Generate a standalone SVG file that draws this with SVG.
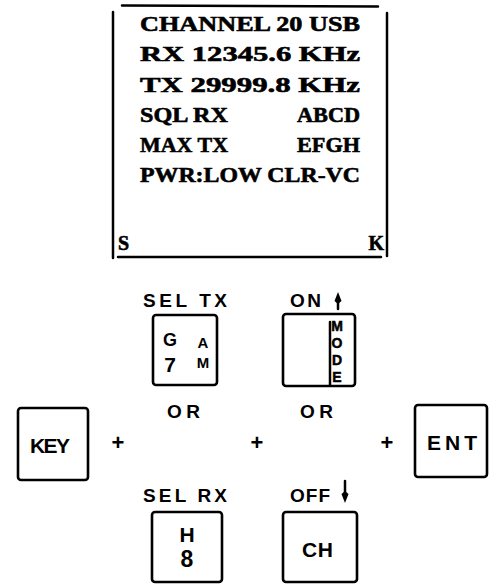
<svg xmlns="http://www.w3.org/2000/svg" width="493" height="584" viewBox="0 0 493 584">
<style>
.bg{fill:#fff}
.ln{stroke:#000;stroke-width:2.5;fill:none;stroke-linecap:round}
.key{fill:#fff;stroke:#000;stroke-width:2.6}
.mono{font-family:"Liberation Serif","DejaVu Serif",serif;font-weight:bold;font-size:22px;fill:#000;stroke:#000;stroke-width:0.6}
.lbl{font-family:"Liberation Sans","DejaVu Sans",sans-serif;font-weight:bold;fill:#000}
.s15{font-size:19px}
.s20{font-size:21px}
.sm{font-size:15px}
.mode{font-size:14px;stroke:#000;stroke-width:0.5}
.mid{text-anchor:middle}
.head{fill:#000}
</style>
<rect class="bg" x="0" y="0" width="493" height="584"/>

<g id="display">
<line class="ln" x1="122" y1="5.5" x2="378" y2="6.5"/>
<line class="ln" x1="113" y1="12" x2="113" y2="258"/>
<line class="ln" x1="387" y1="13" x2="387" y2="256"/>
<line class="ln" x1="118" y1="257" x2="381" y2="257"/>
<text class="mono" x="140" y="31" textLength="220" lengthAdjust="spacingAndGlyphs">CHANNEL 20 USB</text>
<text class="mono" x="140" y="61" textLength="220" lengthAdjust="spacingAndGlyphs">RX 12345.6 KHz</text>
<text class="mono" x="140" y="92" textLength="220" lengthAdjust="spacingAndGlyphs">TX 29999.8 KHz</text>
<text class="mono" x="140" y="122" textLength="88" lengthAdjust="spacingAndGlyphs">SQL RX</text>
<text class="mono" x="297" y="122" textLength="63" lengthAdjust="spacingAndGlyphs">ABCD</text>
<text class="mono" x="140" y="152" textLength="88" lengthAdjust="spacingAndGlyphs">MAX TX</text>
<text class="mono" x="297" y="152" textLength="63" lengthAdjust="spacingAndGlyphs">EFGH</text>
<text class="mono" x="140" y="182" textLength="220" lengthAdjust="spacingAndGlyphs">PWR:LOW CLR-VC</text>
<text class="mono" x="118" y="250" style="font-size:20px">S</text>
<text class="mono" x="384" y="250" style="font-size:20px;text-anchor:end">K</text>
</g>

<g id="key-g7">
<text class="lbl s15" x="143" y="307" textLength="84" lengthAdjust="spacing">SEL TX</text>
<rect class="key" x="153" y="315" width="64" height="70" rx="3"/>
<text class="lbl mid" x="170" y="346" style="font-size:18px">G</text>
<text class="lbl mid" x="170" y="372" style="font-size:21px">7</text>
<text class="lbl sm mid" x="203" y="348">A</text>
<text class="lbl sm mid" x="203" y="368">M</text>
</g>

<g id="key-mode">
<text class="lbl s15" x="290" y="307" textLength="31" lengthAdjust="spacing">ON</text>
<line class="ln" x1="338" y1="298" x2="338" y2="309" stroke-width="2"/>
<path class="head" d="M338 292 L341.5 301 L338 304 L334.5 301 Z"/>
<rect class="key" x="283" y="314" width="72" height="72" rx="3"/>
<line class="ln" x1="330" y1="322" x2="330" y2="385" stroke-width="2"/>
<text class="lbl mode mid" x="337" y="331">M</text>
<text class="lbl mode mid" x="337" y="348">O</text>
<text class="lbl mode mid" x="337" y="365">D</text>
<text class="lbl mode mid" x="337" y="382">E</text>
</g>

<g id="or-labels">
<text class="lbl s15" x="167" y="418" textLength="33" lengthAdjust="spacing">OR</text>
<text class="lbl s15" x="300" y="418" textLength="33" lengthAdjust="spacing">OR</text>
</g>

<g id="key-key">
<rect class="key" x="18" y="408" width="70" height="72" rx="3"/>
<text class="lbl s20" x="30" y="453" textLength="40" lengthAdjust="spacing">KEY</text>
</g>

<g id="plus-signs">
<text class="lbl mid" x="118" y="450" style="font-size:22px">+</text>
<text class="lbl mid" x="257" y="450" style="font-size:22px">+</text>
<text class="lbl mid" x="387" y="450" style="font-size:22px">+</text>
</g>

<g id="key-ent">
<rect class="key" x="415" y="405" width="72" height="72" rx="3"/>
<text class="lbl s20" x="427" y="450" textLength="50" lengthAdjust="spacing">ENT</text>
</g>

<g id="key-h8">
<text class="lbl s15" x="143" y="502" textLength="84" lengthAdjust="spacing">SEL RX</text>
<rect class="key" x="152" y="512" width="70" height="70" rx="3"/>
<text class="lbl s20 mid" x="187" y="542">H</text>
<text class="lbl mid" x="187" y="567" style="font-size:23px">8</text>
</g>

<g id="key-ch">
<text class="lbl s15" x="290" y="502" textLength="40" lengthAdjust="spacing">OFF</text>
<line class="ln" x1="345" y1="481" x2="345" y2="494" stroke-width="2"/>
<path class="head" d="M345 503 L348.5 494 L345 491 L341.5 494 Z"/>
<rect class="key" x="283" y="512" width="74" height="70" rx="3"/>
<text class="lbl s20" x="302" y="557" textLength="31" lengthAdjust="spacing">CH</text>
</g>
</svg>
